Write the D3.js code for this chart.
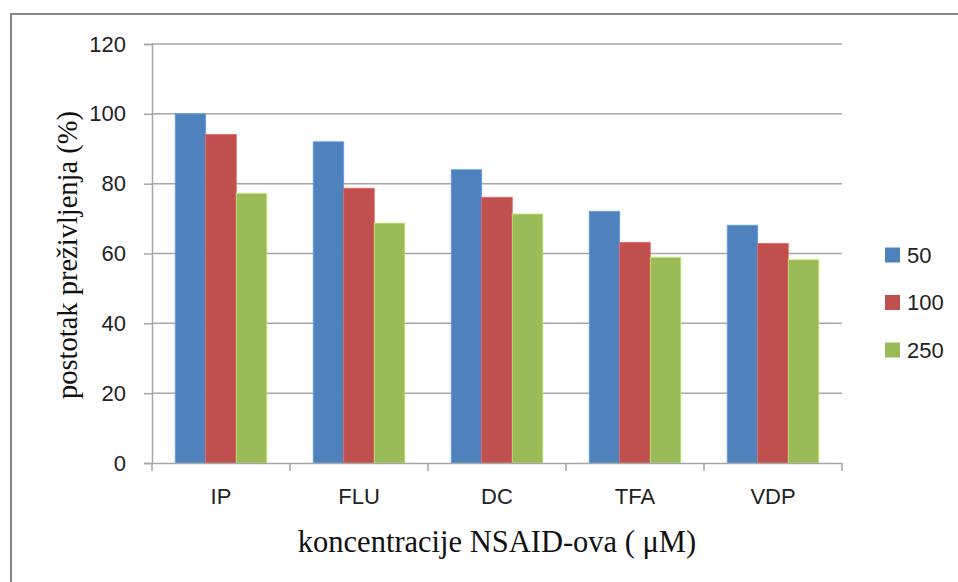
<!DOCTYPE html>
<html><head><meta charset="utf-8">
<script src="https://cdn.jsdelivr.net/npm/d3@7/dist/d3.min.js"></script>
<style>body{margin:0;background:#fff}svg{display:block}</style>
</head><body>
<script>
const categories = ["IP", "FLU", "DC", "TFA", "VDP"];
const seriesNames = ["50", "100", "250"];
const values50 = [100, 92, 84, 72.1, 68.1];
const values100 = [94.1, 78.7, 76.1, 63.2, 62.9];
const values250 = [77.2, 68.7, 71.3, 58.9, 58.2];
const yTicks = [0, 20, 40, 60, 80, 100, 120];
const colors = ["#4F81BD", "#C0504D", "#9BBB59"];
const seriesValues = [values50, values100, values250];

(function () {
const W = 958, H = 582;
const svg = d3.select("body").append("svg").attr("width", W).attr("height", H);

// outer frame
svg.append("rect").attr("x", 11).attr("y", 14).attr("width", 980).attr("height", 620)
  .attr("fill", "none").attr("stroke", "#878787").attr("stroke-width", 2);

const pLeft = 152, pRight = 842, pTop = 44, pBottom = 463;
const x0 = d3.scaleBand().domain(categories).range([pLeft, pRight]).paddingInner(0).paddingOuter(0);
const x1 = d3.scaleBand().domain(seriesNames).range([0, x0.bandwidth()]).paddingInner(0).paddingOuter(0.76);
const y = d3.scaleLinear().domain([0, 120]).range([pBottom, pTop]);

// gridlines
svg.append("g").selectAll("line").data(yTicks.filter(d => d > 0)).join("line")
  .attr("x1", pLeft).attr("x2", pRight).attr("y1", d => y(d)).attr("y2", d => y(d))
  .attr("stroke", "#a6a6a6").attr("stroke-width", 1.5);

// y axis
const yAxis = svg.append("g").attr("transform", `translate(${pLeft},0)`)
  .call(d3.axisLeft(y).tickValues(yTicks).tickSize(8).tickPadding(18));
yAxis.select(".domain").attr("stroke", "#a6a6a6").attr("stroke-width", 1.5);
yAxis.selectAll(".tick line").attr("stroke", "#a6a6a6").attr("stroke-width", 1.5);
yAxis.selectAll("text").attr("font-family", "Liberation Sans, Arial, sans-serif")
  .attr("font-size", 22).attr("fill", "#222");

// bars
const groups = svg.append("g").selectAll("g").data(categories).join("g")
  .attr("transform", d => `translate(${x0(d)},0)`);
groups.selectAll("rect").data((c, i) => seriesNames.map((s, j) => ({s, v: seriesValues[j][i], j})))
  .join("rect")
  .attr("x", d => x1(d.s)).attr("width", x1.bandwidth())
  .attr("y", d => y(d.v)).attr("height", d => pBottom - y(d.v))
  .attr("fill", d => colors[d.j])
  .attr("stroke", d => d3.color(colors[d.j]).brighter(0.6)).attr("stroke-width", 0.8);

// x axis
const xAxis = svg.append("g").attr("transform", `translate(0,${pBottom})`)
  .call(d3.axisBottom(x0).tickSize(0).tickPadding(25));
xAxis.select(".domain").attr("stroke", "#a6a6a6").attr("stroke-width", 1.5);
xAxis.selectAll("text").attr("font-family", "Liberation Sans, Arial, sans-serif")
  .attr("font-size", 22).attr("fill", "#222");
const bounds = categories.map(c => x0(c)).concat([pRight]);
svg.append("g").selectAll("line").data(bounds).join("line")
  .attr("x1", d => d).attr("x2", d => d).attr("y1", pBottom).attr("y2", pBottom + 8)
  .attr("stroke", "#a6a6a6").attr("stroke-width", 1.5);

// axis titles
svg.append("text").attr("x", (pLeft + pRight) / 2).attr("y", 552).attr("text-anchor", "middle")
  .attr("font-family", "Liberation Serif, Times New Roman, serif").attr("font-size", 30.5).attr("fill", "#111")
  .text("koncentracije NSAID-ova ( μM)");
svg.append("text").attr("transform", `translate(77,255) rotate(-90)`)
  .attr("text-anchor", "middle")
  .attr("font-family", "Liberation Serif, Times New Roman, serif").attr("font-size", 28.5).attr("fill", "#111")
  .text("postotak preživljenja (%)");

// legend
const leg = svg.append("g").selectAll("g").data(seriesNames).join("g")
  .attr("transform", (d, i) => `translate(885,${255 + i * 47.5})`);
leg.append("rect").attr("x", 0).attr("y", -7.5).attr("width", 15).attr("height", 15)
  .attr("fill", (d, i) => colors[i]);
leg.append("text").attr("x", 22).attr("y", 0).attr("dy", "0.36em")
  .attr("font-family", "Liberation Sans, Arial, sans-serif").attr("font-size", 22).attr("fill", "#222")
  .text(d => d);
})();
</script>
</body></html>
